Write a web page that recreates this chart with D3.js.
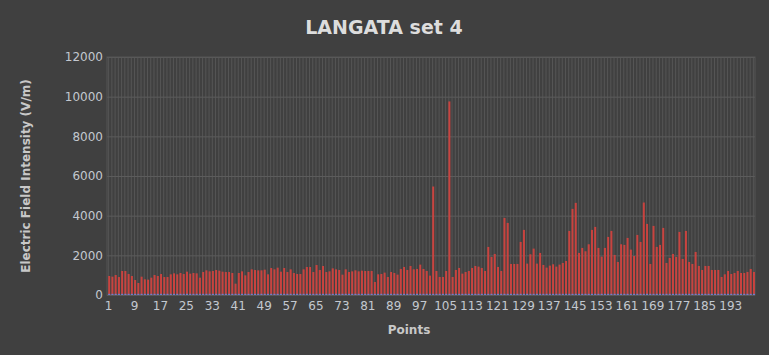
<!DOCTYPE html>
<html>
<head>
<meta charset="utf-8">
<script src="https://cdn.jsdelivr.net/npm/d3@7"></script>
<style>
    body { margin: 0; background: #404040; }
    #chart { width: 769px; height: 355px; }
    text { font-family: "DejaVu Sans", sans-serif; }
</style>
</head>
<body>
<div id="chart"></div>
<script>
// Electric field intensity, points 1..200
const fieldValues = [
    958, 924, 1008, 907, 1210, 1210, 1058, 958, 756, 605,
    924, 790, 773, 874, 1008, 958, 1058, 907, 907, 1042,
    1092, 1042, 1109, 1058, 1176, 1075, 1109, 1092, 874, 1159,
    1243, 1193, 1210, 1260, 1226, 1176, 1159, 1159, 1109, 571,
    1109, 1193, 991, 1159, 1294, 1260, 1243, 1243, 1277, 1042,
    1361, 1294, 1378, 1176, 1361, 1159, 1294, 1109, 1058, 1058,
    1294, 1411, 1411, 1159, 1512, 1260, 1462, 1159, 1193, 1344,
    1294, 1260, 1025, 1294, 1159, 1193, 1243, 1193, 1226, 1210,
    1212, 1212, 656, 1043, 1060, 1128, 909, 1161, 1111, 1027,
    1313, 1414, 1262, 1464, 1296, 1313, 1532, 1313, 1212, 976,
    5470, 1212, 909, 909, 1212, 9760, 909, 1262, 1363, 1077,
    1161, 1212, 1363, 1464, 1430, 1363, 1212, 2424, 1919, 2070,
    1414, 1212, 3888, 3635, 1565, 1565, 1565, 2676, 3282, 1582,
    2053, 2339, 1582, 2121, 1515, 1380, 1481, 1548, 1431, 1532,
    1616, 1717, 3231, 4342, 4645, 2121, 2373, 2205, 2558, 3282,
    3433, 2373, 1935, 2373, 2928, 3231, 2020, 1666, 2558, 2525,
    2878, 2289, 1969, 3029, 2676, 4662, 3585, 1565, 3484, 2424,
    2525, 3383, 1616, 1868, 2070, 1919, 3181, 1818, 3231, 1666,
    1565, 2171, 1464, 1262, 1464, 1464, 1262, 1262, 1262, 909,
    1043, 1212, 1060, 1111, 1212, 1111, 1111, 1161, 1313, 1161
];
// second (small) series drawn in blue along the base
const baseValues = fieldValues.map(() => 60);
const points = fieldValues.map((d, i) => i + 1);
const yTicks = [0, 2000, 4000, 6000, 8000, 10000, 12000];

const margin = { top: 57, right: 14, bottom: 60, left: 107 };
const width = 769 - margin.left - margin.right;
const height = 355 - margin.top - margin.bottom;

const svg = d3.select("#chart")
    .append("svg")
    .attr("width", 769)
    .attr("height", 355);

svg.append("rect")
    .attr("width", 769)
    .attr("height", 355)
    .attr("fill", "#404040");

const g = svg.append("g")
    .attr("transform", `translate(${margin.left},${margin.top})`);

const x = d3.scaleBand().domain(points).range([0, width]).paddingInner(0).paddingOuter(0);
const y = d3.scaleLinear().domain([0, 12000]).range([height, 0]);

// vertical grid lines, one for each point
g.append("g")
    .selectAll("line")
    .data(points)
    .join("line")
    .attr("x1", d => x(d) + x.bandwidth() / 2)
    .attr("x2", d => x(d) + x.bandwidth() / 2)
    .attr("y1", 0)
    .attr("y2", height)
    .attr("stroke", "#555555")
    .attr("stroke-width", 1);

// horizontal grid lines
g.append("g")
    .call(d3.axisLeft(y).tickValues(yTicks).tickSize(-width).tickFormat(""))
    .call(g => g.select(".domain").remove())
    .call(g => g.selectAll(".tick line").attr("stroke", "#5c5c5c"));

// plot border
g.append("rect")
    .attr("width", width)
    .attr("height", height)
    .attr("fill", "none")
    .attr("stroke", "#555555");

// red bars
g.append("g")
    .selectAll("rect")
    .data(fieldValues)
    .join("rect")
    .attr("x", (d, i) => x(points[i]) + 1.2)
    .attr("width", 2)
    .attr("y", d => y(d))
    .attr("height", d => height - y(d))
    .attr("fill", "#c9433f");

// blue bars
g.append("g")
    .selectAll("rect")
    .data(baseValues)
    .join("rect")
    .attr("x", (d, i) => x(points[i]) + 1.2)
    .attr("width", 2)
    .attr("y", d => y(d))
    .attr("height", d => height - y(d))
    .attr("fill", "#6a7fd0");

// y axis labels
g.append("g")
    .call(d3.axisLeft(y).tickValues(yTicks).tickSize(0).tickPadding(4).tickFormat(d3.format("d")))
    .call(g => g.select(".domain").remove())
    .call(g => g.selectAll(".tick text")
        .attr("fill", "#c3c8cf")
        .attr("font-size", "12px")
        .attr("font-family", "DejaVu Sans, sans-serif"));

// x axis labels, every 8th point
g.append("g")
    .attr("transform", `translate(0,${height})`)
    .call(d3.axisBottom(x).tickValues(points.filter(d => (d - 1) % 8 === 0)).tickSize(0).tickPadding(6))
    .call(g => g.select(".domain").remove())
    .call(g => g.selectAll(".tick text")
        .attr("fill", "#c3c8cf")
        .attr("font-size", "12px")
        .attr("font-family", "DejaVu Sans, sans-serif"));

// title
svg.append("text")
    .attr("x", 384)
    .attr("y", 34)
    .attr("text-anchor", "middle")
    .style("font-size", "19px")
    .style("font-weight", "bold")
    .style("fill", "#dddddd")
    .text("LANGATA set 4");

// axis titles
svg.append("text")
    .attr("x", 409)
    .attr("y", 334)
    .attr("text-anchor", "middle")
    .style("font-size", "12px")
    .style("font-weight", "bold")
    .style("fill", "#c8c8c8")
    .text("Points");

svg.append("text")
    .attr("transform", "rotate(-90)")
    .attr("x", -176)
    .attr("y", 30)
    .attr("text-anchor", "middle")
    .style("font-size", "12px")
    .style("font-weight", "bold")
    .style("fill", "#c8c8c8")
    .text("Electric Field Intensity (V/m)");
</script>
</body>
</html>
